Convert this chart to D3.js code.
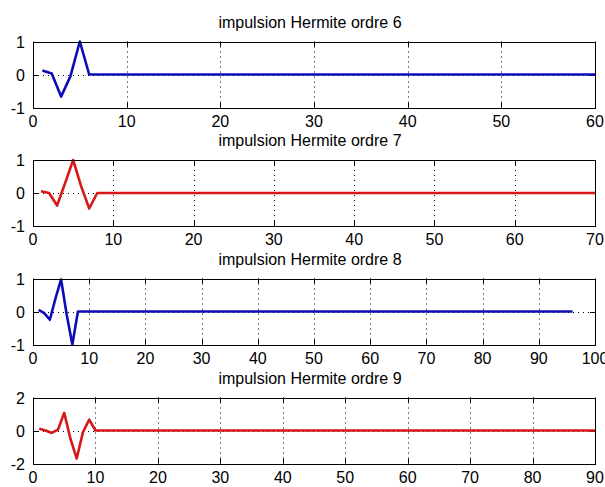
<!DOCTYPE html>
<html>
<head>
<meta charset="utf-8">
<script src="https://cdn.jsdelivr.net/npm/d3@7"></script>
<style>
  body { margin: 0; background: #fff; }
  svg text { font-family: "Liberation Sans", Arial, sans-serif; fill: #000; }
</style>
</head>
<body>
<div id="chart"></div>
<script>
const SVG_WIDTH = 605;
const SVG_HEIGHT = 487;
const PLOT_LEFT = 33;
const PLOT_RIGHT = 595;
const PLOT_HEIGHT = 66;
const PLOT_TOPS = [41.5, 160, 278.5, 397.5];

const BLUE = "#0c0cb8";
const RED = "#d81818";

// x positions and values (flat tail ends at last x)
const ordre6X = [1, 2, 3, 4, 5, 6, 60];
const ordre6Y = [0.12, 0.03, -0.67, -0.05, 1.0, 0, 0];

const ordre7X = [1, 2, 3, 4, 5, 6, 7, 8, 70];
const ordre7Y = [0.05, 0.0, -0.38, 0.3, 1.0, 0.2, -0.47, 0, 0];

const ordre8X = [1, 2, 3, 4, 5, 6, 7, 8, 96];
const ordre8Y = [0.05, -0.05, -0.25, 0.4, 0.97, -0.1, -1.0, 0, 0];

const ordre9X = [1, 2, 3, 4, 5, 6, 7, 8, 9, 10, 90];
const ordre9Y = [0.1, 0.0, -0.15, 0.05, 1.07, -0.5, -1.7, -0.1, 0.66, 0, 0];

const titles = [
    "impulsion Hermite ordre 6",
    "impulsion Hermite ordre 7",
    "impulsion Hermite ordre 8",
    "impulsion Hermite ordre 9"
];
const xMaxes = [60, 70, 100, 90];
const yTicks = [[-1, 0, 1], [-1, 0, 1], [-1, 0, 1], [-2, 0, 2]];
const colors = [BLUE, RED, BLUE, RED];
const seriesX = [ordre6X, ordre7X, ordre8X, ordre9X];
const seriesY = [ordre6Y, ordre7Y, ordre8Y, ordre9Y];

const svg = d3.select("#chart").append("svg")
    .attr("width", SVG_WIDTH)
    .attr("height", SVG_HEIGHT);

const drawPanel = (i) => {
    const top = PLOT_TOPS[i];
    const bottom = top + PLOT_HEIGHT;
    const yt = yTicks[i];

    const x = d3.scaleLinear().domain([0, xMaxes[i]]).range([PLOT_LEFT, PLOT_RIGHT]);
    const y = d3.scaleLinear().domain([yt[0], yt[yt.length - 1]]).range([bottom, top]);
    const xt = d3.range(0, xMaxes[i] + 1, 10);

    const g = svg.append("g");

    // dotted grid
    g.selectAll(".vgrid")
        .data(xt.filter(d => d > 0 && d < xMaxes[i]))
        .enter().append("line")
        .attr("x1", d => Math.round(x(d)) + 0.5).attr("x2", d => Math.round(x(d)) + 0.5)
        .attr("y1", top).attr("y2", bottom)
        .attr("stroke", "#000").attr("stroke-width", 1)
        .attr("stroke-dasharray", "1,4");
    g.selectAll(".hgrid")
        .data(yt.slice(1, -1))
        .enter().append("line")
        .attr("x1", PLOT_LEFT).attr("x2", PLOT_RIGHT)
        .attr("y1", d => Math.round(y(d)) + 0.5).attr("y2", d => Math.round(y(d)) + 0.5)
        .attr("stroke", "#000").attr("stroke-width", 1)
        .attr("stroke-dasharray", "1,4");

    // inward tick marks
    xt.forEach(d => {
        const px = Math.round(x(d)) + 0.5;
        g.append("line").attr("x1", px).attr("x2", px).attr("y1", bottom).attr("y2", bottom - 5).attr("stroke", "#000");
        g.append("line").attr("x1", px).attr("x2", px).attr("y1", top).attr("y2", top + 5).attr("stroke", "#000");
    });
    yt.forEach(d => {
        const py = Math.round(y(d)) + 0.5;
        g.append("line").attr("x1", PLOT_LEFT).attr("x2", PLOT_LEFT + 5).attr("y1", py).attr("y2", py).attr("stroke", "#000");
        g.append("line").attr("x1", PLOT_RIGHT).attr("x2", PLOT_RIGHT - 5).attr("y1", py).attr("y2", py).attr("stroke", "#000");
    });

    // signal
    const pts = seriesX[i].map((v, k) => [v, seriesY[i][k]]);
    g.append("path")
        .datum(pts)
        .attr("fill", "none")
        .attr("stroke", colors[i])
        .attr("stroke-width", 2.6)
        .attr("stroke-linejoin", "round")
        .attr("d", d3.line().x(d => x(d[0])).y(d => y(d[1])));

    // box
    g.append("rect")
        .attr("x", PLOT_LEFT + 0.5).attr("y", Math.round(top) + 0.5)
        .attr("width", PLOT_RIGHT - PLOT_LEFT).attr("height", PLOT_HEIGHT)
        .attr("fill", "none").attr("stroke", "#000").attr("stroke-width", 1);

    // tick labels
    g.selectAll(".xl")
        .data(xt)
        .enter().append("text")
        .attr("x", d => x(d))
        .attr("y", bottom + 19)
        .attr("text-anchor", "middle")
        .attr("font-size", 16)
        .text(d => d);
    g.selectAll(".yl")
        .data(yt)
        .enter().append("text")
        .attr("x", PLOT_LEFT - 8)
        .attr("y", d => y(d) + 6)
        .attr("text-anchor", "end")
        .attr("font-size", 16)
        .text(d => d);

    g.append("text")
        .attr("x", (PLOT_LEFT + PLOT_RIGHT) / 2 - 4)
        .attr("y", top - 14)
        .attr("text-anchor", "middle")
        .attr("font-size", 16)
        .text(titles[i]);
};

titles.forEach((t, i) => drawPanel(i));
</script>
</body>
</html>
